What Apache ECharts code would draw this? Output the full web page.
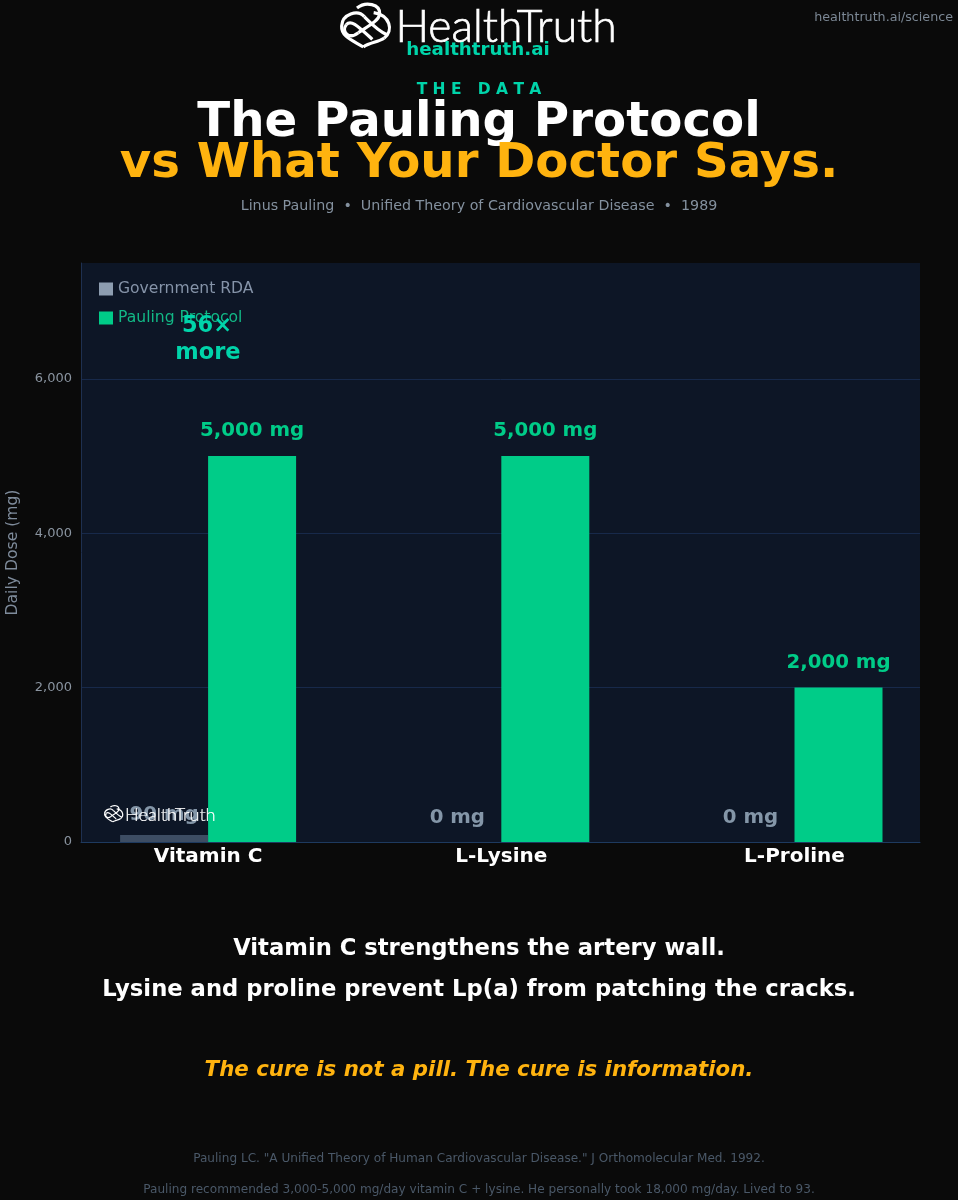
<!DOCTYPE html>
<html><head><meta charset="utf-8">
<script src="https://cdn.jsdelivr.net/npm/echarts@6/dist/echarts.min.js"></script>
<style>html,body{margin:0;padding:0;background:#0a0a0a}#c{width:958px;height:1200px}</style>
</head><body><div id="c"></div>
<script>
const categories = ['Vitamin C', 'L-Lysine', 'L-Proline'];
const categoryIndex = [0, 1, 2];
const rdaValues = [90, 0, 0];
const paulingValues = [5000, 5000, 2000];
const yTicks = [0, 2000, 4000, 6000];
const seriesNames = ['Government RDA', 'Pauling Protocol'];

const F = '"DejaVu Sans", sans-serif';
const KNOT = [
  [85,141,55,122,18,110,20,78],[20,78,22,42,68,28,88,50],[88,50,104,66,128,92,156,104],
  [66,24,92,3,136,12,134,42],[134,42,132,62,100,78,70,98],[70,98,42,120,18,96,34,74],[34,74,48,58,66,76,112,118],
  [116,38,166,46,176,92,148,114],[148,114,128,128,106,126,85,141]
];
function txt(x, y, s, size, color, weight, extra) {
  return { type: 'text', x, y, silent: true, z: 50, style: Object.assign({
    text: s, fill: color, font: (weight || 'normal') + ' ' + size + 'px ' + F, textAlign: 'center', textVerticalAlign: 'middle'
  }, extra || {}) };
}
function logo(x, y, scale, textX, textY, size, lw, strokeW) {
  const k = scale / 3;
  const strokes = KNOT.map(s => ({ type: 'bezierCurve', x, y, scaleX: k, scaleY: k, silent: true, z: 60,
    shape: { x1: s[0], y1: s[1], cpx1: s[2], cpy1: s[3], cpx2: s[4], cpy2: s[5], x2: s[6], y2: s[7] },
    style: { fill: null, stroke: '#ffffff', lineWidth: lw } }));
  return strokes.concat([{ type: 'text', x: textX, y: textY, silent: true, z: 60, style: { text: 'HealthTruth', fill: '#ffffff',
      stroke: '#ffffff', lineWidth: strokeW,
      font: '300 ' + size + 'px Lato, sans-serif', textAlign: 'left', textVerticalAlign: 'middle' } }]);
}
const chart = echarts.init(document.getElementById('c'), null, { renderer: 'canvas' });
chart.setOption({
  backgroundColor: '#0a0a0a',
  animation: false,
  grid: { left: 81, right: 38, top: 263, bottom: 358, backgroundColor: '#0d1626', show: true, borderWidth: 0, outerBoundsMode: 'none' },
  legend: {
    left: 94, top: 276, orient: 'vertical', itemGap: 13, itemWidth: 14, itemHeight: 13, icon: 'rect',
    data: [
      { name: seriesNames[0], itemStyle: { color: '#8d9db0' }, textStyle: { color: '#8593a8' } },
      { name: seriesNames[1], itemStyle: { color: '#00cc88' }, textStyle: { color: '#12b886' } }
    ],
    textStyle: { fontFamily: F, fontSize: 15.6 }
  },
  xAxis: {
    type: 'value', min: -0.4335, max: 2.428, splitLine: { show: false },
    axisLine: { show: true, onZero: false, lineStyle: { color: '#1e3a5f', width: 1 } },
    axisTick: { show: false },
    axisLabel: { customValues: categoryIndex, formatter: v => categories[v], color: '#ffffff',
      fontFamily: F, fontSize: 20, fontWeight: 'bold', margin: 5 }
  },
  yAxis: {
    type: 'value', min: 0, max: 7500, interval: 2000,
    name: 'Daily Dose (mg)', nameLocation: 'middle', nameGap: 60, nameRotate: 90,
    nameTextStyle: { color: '#7f8c9c', fontFamily: F, fontSize: 15.6 },
    axisLine: { show: true, onZero: false, lineStyle: { color: '#1e3050' } },
    axisTick: { show: false },
    axisLabel: { customValues: yTicks, formatter: v => v.toLocaleString('en-US'), color: '#8a94a0', fontFamily: F, fontSize: 13, margin: 9, padding: [4, 0, 0, 0] },
    splitLine: { show: true, showMaxLine: false, lineStyle: { color: '#17294a', width: 1 } }
  },
  series: [
    { name: seriesNames[0], type: 'bar', barWidth: 88, barGap: 0,
      data: categoryIndex.map(i => ({ value: [i, rdaValues[i]], label: rdaValues[i] > 0 ? { offset: [0, 4] } : {} })),
      itemStyle: { color: '#3d4d63' },
      label: { show: true, position: 'top', distance: 14, color: '#8496a8', fontFamily: F, fontSize: 19.75, fontWeight: 'bold',
        formatter: p => p.value[1].toLocaleString('en-US') + ' mg' } },
    { name: seriesNames[1], type: 'bar', barWidth: 88, barGap: 0,
      data: categoryIndex.map(i => [i, paulingValues[i]]),
      itemStyle: { color: '#00cc88' },
      label: { show: true, position: 'top', distance: 15, color: '#00cc88', fontFamily: F, fontSize: 19.75, fontWeight: 'bold',
        formatter: p => p.value[1].toLocaleString('en-US') + ' mg' } }
  ],
  graphic: { elements: [
    ...logo(335, 0, 1.0, 395.5, 28, 44.4, 9.6, 0.7),
    txt(478, 50, 'healthtruth.ai', 18.25, '#00d4aa', 'bold'),
    txt(953, 18, 'healthtruth.ai/science', 12.7, '#7b8794', 'normal', { textAlign: 'right' }),
    txt(479, 90, 'T H E   D A T A', 15.5, '#00d4aa', 'bold'),
    txt(479, 123, 'The Pauling Protocol', 48.25, '#ffffff', 'bold'),
    txt(479, 164, 'vs What Your Doctor Says.', 48.25, '#ffb30f', 'bold'),
    txt(479, 206, 'Linus Pauling  •  Unified Theory of Cardiovascular Disease  •  1989', 14.25, '#84919f'),
    txt(207, 326.5, '56×', 22.5, '#00d4aa', 'bold'),
    txt(208, 353, 'more', 22.5, '#00d4aa', 'bold'),
    ...logo(102, 804, 0.38, 125, 815, 18.2, 9.6, 0.2),
    txt(479, 949, 'Vitamin C strengthens the artery wall.', 22.7, '#ffffff', 'bold'),
    txt(479, 990, 'Lysine and proline prevent Lp(a) from patching the cracks.', 22.7, '#ffffff', 'bold'),
    txt(479, 1070.5, 'The cure is not a pill. The cure is information.', 21.3, '#ffb30f', 'bold', { font: 'italic bold 21.3px ' + F }),
    txt(479, 1159, 'Pauling LC. "A Unified Theory of Human Cardiovascular Disease." J Orthomolecular Med. 1992.', 12.1, '#4a5868'),
    txt(479, 1190, 'Pauling recommended 3,000-5,000 mg/day vitamin C + lysine. He personally took 18,000 mg/day. Lived to 93.', 12.1, '#4a5868')
  ] }
});
</script></body></html>
